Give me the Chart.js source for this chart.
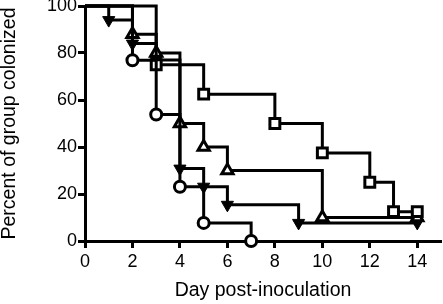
<!DOCTYPE html>
<html>
<head>
<meta charset="utf-8">
<script src="https://cdn.jsdelivr.net/npm/chart.js@4"></script>
<style>
    html, body { margin: 0; padding: 0; background: #fff; }
    canvas { display: block; }
</style>
</head>
<body>
<canvas id="chart" width="443" height="304"></canvas>
<script>
// ===============================
// Data (percent still colonized, per group)
// ===============================

const circleDays = [0, 2, 3, 4, 5, 7];
const circleVals = [100, 76.9, 53.8, 23.1, 7.7, 0];

const squareDays = [0, 3, 5, 8, 10, 12, 13, 14];
const squareVals = [100, 75, 62.5, 50, 37.5, 25, 12.5, 12.5];

const upDays = [0, 2, 3, 4, 5, 6, 10, 14];
const upVals = [100, 88, 80, 50, 40, 30, 10, 10];

const downDays = [0, 1, 2, 3, 4, 5, 6, 9, 14];
const downVals = [100, 94, 84, 77, 30.8, 23.1, 15.4, 7.7, 7.7];

const xTicks = [0, 2, 4, 6, 8, 10, 12, 14];
const yTicks = [0, 20, 40, 60, 80, 100];

const FONT = "'Liberation Sans', Arial, Helvetica, sans-serif";

const toPoints = (days, vals) => days.map((d, i) => ({ x: d, y: vals[i] }));

// no marker on the day-0 start point
const markerSize = r => ctx => (ctx.dataIndex === 0 ? 0 : r);

const series = (label, days, vals, style, radius, fill, borderW, rotation) => ({
    label,
    data: toPoints(days, vals),
    stepped: "before",
    borderColor: "#000",
    borderWidth: 3,
    fill: false,
    clip: false,
    pointStyle: style,
    pointRotation: rotation || 0,
    pointRadius: markerSize(radius),
    pointHoverRadius: markerSize(radius),
    pointBackgroundColor: fill,
    pointBorderColor: "#000",
    pointBorderWidth: borderW
});

const datasets = [
    series("Circle", circleDays, circleVals, "circle", 5.5, "#fff", 3),
    series("Square", squareDays, squareVals, "rect", 7, "#fff", 3),
    series("Up", upDays, upVals, "triangle", 6.5, "#fff", 3),
    series("Down", downDays, downVals, "triangle", 7, "#000", 1, 180)
];

// keep tick labels from pushing the plot area in
const noEdgePadding = axis => {
    axis.paddingLeft = 0;
    axis.paddingRight = 0;
    axis.paddingTop = 0;
    axis.paddingBottom = 0;
};

new Chart(document.getElementById("chart"), {
    type: "line",
    data: { datasets },
    options: {
        responsive: false,
        animation: false,
        devicePixelRatio: 1,
        layout: { autoPadding: false, padding: { top: 6, right: 2, left: 0, bottom: 0 } },
        plugins: {
            legend: { display: false },
            tooltip: { enabled: false }
        },
        scales: {
            x: {
                type: "linear",
                min: 0,
                max: 15,
                afterBuildTicks: axis => { axis.ticks = xTicks.map(v => ({ value: v })); },
                afterFit: axis => { axis.height = 63; noEdgePadding(axis); },
                ticks: {
                    color: "#000",
                    padding: 3,
                    maxRotation: 0,
                    font: { family: FONT, size: 18 }
                },
                grid: {
                    drawOnChartArea: false,
                    drawTicks: true,
                    tickLength: 7,
                    tickWidth: 3,
                    tickColor: "#000"
                },
                border: { display: true, color: "#000", width: 3 },
                title: {
                    display: true,
                    text: "Day post-inoculation",
                    color: "#000",
                    font: { family: FONT, size: 19.5, lineHeight: 1 },
                    padding: { top: 0, bottom: 4 }
                }
            },
            y: {
                type: "linear",
                min: 0,
                max: 100,
                afterBuildTicks: axis => { axis.ticks = yTicks.map(v => ({ value: v })); },
                afterFit: axis => { axis.width = 85; noEdgePadding(axis); },
                ticks: {
                    color: "#000",
                    padding: 1,
                    font: { family: FONT, size: 18 }
                },
                grid: {
                    drawOnChartArea: false,
                    drawTicks: true,
                    tickLength: 7,
                    tickWidth: 3,
                    tickColor: "#000"
                },
                border: { display: true, color: "#000", width: 3 },
                title: {
                    display: true,
                    text: "Percent of group colonized",
                    color: "#000",
                    font: { family: FONT, size: 19.5, lineHeight: 1 },
                    padding: { top: 0, bottom: 0 }
                }
            }
        }
    }
});
</script>
</body>
</html>
